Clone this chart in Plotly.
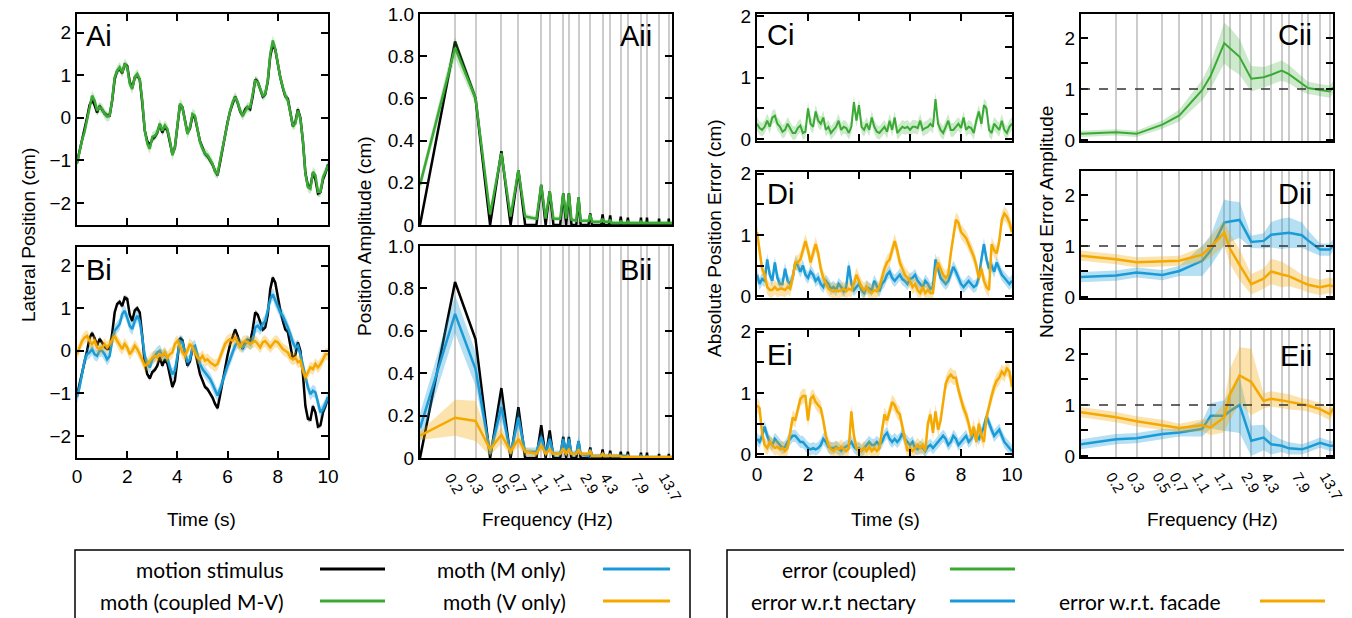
import math
import plotly.graph_objects as go

# reference canvas size; the page body adds an 8 px margin, so the figure is smaller
W, H = 1352, 618
OX, OY = 8, 8
FW, FH = W - OX, H - OY
FONT = "Liberation Sans, Arial, sans-serif"
FONT_LEG = "Liberation Sans Narrow, Lato, sans-serif"

BLACK = "#000000"
GREEN = "#3aaa35"
BLUE = "#1a9bd7"
ORANGE = "#f5a800"
FILL = {GREEN: "rgba(58,170,53,0.25)", BLUE: "rgba(26,155,215,0.32)",
        ORANGE: "rgba(245,168,0,0.32)", BLACK: "rgba(40,40,40,0.35)"}

# ---------------- time-domain data (0.1 s samples) ----------------
TIME = [round(0.1 * i, 1) for i in range(101)]

STIMULUS = [
    -1.05, -0.80, -0.55, -0.30, 0.00, 0.30, 0.42, 0.30, 0.12, 0.28,
    0.20, 0.10, 0.05, 0.05, 0.40, 0.90, 1.10, 1.15, 1.05, 1.25,
    1.22, 0.85, 0.70, 0.95, 1.00, 0.90, 0.35, -0.30, -0.55, -0.65,
    -0.50, -0.45, -0.35, -0.15, -0.35, -0.20, -0.30, -0.55, -0.85, -0.70,
    -0.20, 0.30, 0.25, -0.05, -0.35, -0.25, 0.05, 0.00, -0.30, -0.55,
    -0.70, -0.85, -0.90, -1.00, -1.10, -1.25, -1.35, -1.05, -0.70, -0.40,
    -0.10, 0.15, 0.35, 0.50, 0.35, 0.15, 0.05, 0.20, 0.25, 0.20,
    0.50, 0.90, 0.85, 0.65, 0.50, 0.55, 0.85, 1.45, 1.72, 1.60,
    1.25, 0.95, 0.70, 0.50, 0.45, 0.15, -0.20, -0.10, 0.20, 0.00,
    -0.55, -1.30, -1.60, -1.62, -1.30, -1.45, -1.78, -1.75, -1.45, -1.30,
    -1.10]
MOTH_COUPLED = [
    -1.08, -0.77, -0.53, -0.34, -0.06, 0.25, 0.52, 0.41, 0.17, 0.25,
    0.21, 0.09, 0.03, 0.05, 0.41, 0.95, 1.11, 1.19, 1.07, 1.27,
    1.19, 0.80, 0.68, 0.95, 1.03, 0.91, 0.41, -0.30, -0.61, -0.73,
    -0.45, -0.42, -0.34, -0.14, -0.30, -0.18, -0.26, -0.53, -0.88, -0.69,
    -0.22, 0.33, 0.25, -0.06, -0.38, -0.22, 0.09, 0.05, -0.26, -0.57,
    -0.73, -0.84, -0.88, -0.99, -1.08, -1.27, -1.32, -1.00, -0.69, -0.38,
    -0.10, 0.17, 0.37, 0.49, 0.37, 0.17, 0.05, 0.17, 0.25, 0.25,
    0.52, 0.87, 0.84, 0.68, 0.52, 0.56, 0.87, 1.50, 1.82, 1.62,
    1.23, 0.95, 0.72, 0.52, 0.41, 0.13, -0.18, -0.14, 0.17, -0.02,
    -0.53, -1.32, -1.63, -1.67, -1.27, -1.35, -1.74, -1.74, -1.39, -1.27,
    -1.12]
MOTH_M_ONLY = [
    -1.09, -0.86, -0.55, -0.23, -0.08, -0.04, 0.04, -0.08, -0.12, 0.00,
    0.00, -0.08, -0.20, -0.12, 0.23, 0.47, 0.55, 0.63, 0.86, 0.94,
    0.78, 0.59, 0.51, 0.70, 0.82, 0.70, 0.31, -0.12, -0.31, -0.39,
    -0.20, -0.12, -0.04, 0.00, -0.12, -0.08, -0.16, -0.39, -0.55, -0.47,
    -0.08, 0.23, 0.20, -0.04, -0.27, -0.20, 0.08, 0.12, -0.12, -0.31,
    -0.43, -0.51, -0.59, -0.66, -0.78, -0.94, -1.05, -0.90, -0.70, -0.55,
    -0.35, -0.20, -0.04, 0.12, 0.20, 0.16, 0.08, 0.16, 0.23, 0.16,
    0.23, 0.55, 0.59, 0.51, 0.63, 0.70, 0.94, 1.21, 1.33, 1.17,
    1.02, 0.90, 0.82, 0.70, 0.55, 0.39, 0.20, 0.08, 0.12, -0.08,
    -0.35, -0.63, -0.86, -1.02, -0.94, -0.98, -1.25, -1.45, -1.37, -1.25,
    -1.09]
MOTH_V_ONLY = [
    -0.08, 0.08, 0.23, 0.31, 0.35, 0.23, 0.16, 0.23, 0.08, 0.04,
    0.08, 0.16, 0.08, 0.16, 0.27, 0.35, 0.23, 0.12, 0.04, 0.16,
    0.08, -0.08, 0.00, 0.12, 0.04, -0.08, -0.23, -0.35, -0.31, -0.23,
    -0.16, -0.12, -0.16, -0.08, -0.12, -0.04, -0.16, -0.08, -0.04, 0.16,
    0.23, 0.12, -0.04, -0.12, 0.00, 0.16, 0.08, -0.04, -0.16, -0.20,
    -0.12, -0.23, -0.20, -0.27, -0.31, -0.35, -0.31, -0.16, 0.00, 0.16,
    0.23, 0.27, 0.23, 0.31, 0.20, 0.08, 0.20, 0.23, 0.20, 0.16,
    0.20, 0.23, 0.16, 0.08, 0.20, 0.23, 0.16, 0.08, 0.16, 0.23,
    0.20, 0.12, 0.04, 0.00, -0.04, -0.16, -0.20, -0.16, -0.27, -0.23,
    -0.47, -0.63, -0.51, -0.39, -0.43, -0.31, -0.39, -0.31, -0.20, -0.08,
    -0.08]
ERR_COUPLED = [
    0.25, 0.18, 0.15, 0.20, 0.30, 0.20, 0.35, 0.38, 0.25, 0.20,
    0.12, 0.15, 0.25, 0.18, 0.10, 0.10, 0.18, 0.22, 0.10, 0.12,
    0.50, 0.25, 0.20, 0.45, 0.30, 0.25, 0.35, 0.15, 0.20, 0.10,
    0.15, 0.20, 0.30, 0.15, 0.20, 0.18, 0.10, 0.20, 0.60, 0.30,
    0.55, 0.20, 0.15, 0.25, 0.15, 0.35, 0.20, 0.12, 0.10, 0.15,
    0.20, 0.12, 0.30, 0.15, 0.35, 0.10, 0.15, 0.20, 0.18, 0.20,
    0.15, 0.20, 0.20, 0.18, 0.30, 0.15, 0.18, 0.20, 0.25, 0.20,
    0.65, 0.25, 0.15, 0.10, 0.20, 0.30, 0.15, 0.15, 0.20, 0.25,
    0.18, 0.35, 0.15, 0.20, 0.18, 0.10, 0.30, 0.45, 0.25, 0.55,
    0.50, 0.15, 0.10, 0.25, 0.20, 0.15, 0.30, 0.15, 0.10, 0.20,
    0.25]
ERR_D_NECTARY = [
    0.35, 0.20, 0.28, 0.25, 0.60, 0.35, 0.25, 0.55, 0.30, 0.20,
    0.20, 0.45, 0.25, 0.20, 0.30, 0.55, 0.50, 0.40, 0.50, 0.35,
    0.30, 0.40, 0.35, 0.25, 0.30, 0.20, 0.15, 0.25, 0.20, 0.12,
    0.15, 0.10, 0.20, 0.15, 0.08, 0.15, 0.50, 0.20, 0.10, 0.15,
    0.20, 0.10, 0.05, 0.15, 0.12, 0.10, 0.25, 0.15, 0.08, 0.20,
    0.25, 0.35, 0.40, 0.30, 0.25, 0.30, 0.35, 0.28, 0.25, 0.20,
    0.28, 0.30, 0.35, 0.25, 0.20, 0.15, 0.25, 0.20, 0.12, 0.15,
    0.60, 0.45, 0.30, 0.25, 0.20, 0.25, 0.35, 0.48, 0.40, 0.30,
    0.20, 0.15, 0.20, 0.25, 0.20, 0.15, 0.18, 0.30, 0.60, 0.85,
    0.60, 0.45, 0.50, 0.40, 0.55, 0.45, 0.35, 0.30, 0.25, 0.20,
    0.25]
ERR_D_FACADE = [
    1.05, 0.70, 0.45, 0.35, 0.15, 0.10, 0.10, 0.15, 0.10, 0.12,
    0.12, 0.10, 0.15, 0.12, 0.30, 0.55, 0.55, 0.60, 0.75, 0.90,
    0.75, 0.55, 0.70, 0.85, 0.70, 0.45, 0.30, 0.20, 0.12, 0.10,
    0.08, 0.10, 0.08, 0.10, 0.12, 0.08, 0.12, 0.10, 0.20, 0.35,
    0.25, 0.15, 0.10, 0.15, 0.08, 0.05, 0.10, 0.08, 0.15, 0.30,
    0.45, 0.55, 0.60, 0.75, 0.90, 0.75, 0.55, 0.45, 0.35, 0.30,
    0.25, 0.15, 0.20, 0.10, 0.05, 0.15, 0.05, 0.10, 0.05, 0.05,
    0.40, 0.55, 0.45, 0.35, 0.30, 0.35, 0.70, 1.00, 1.25, 1.20,
    1.05, 1.00, 0.95, 0.85, 0.75, 0.65, 0.50, 0.30, 0.45, 0.25,
    0.15, 0.10, 0.85, 0.75, 0.70, 0.90, 1.25, 1.35, 1.30, 1.20,
    1.05]
ERR_E_NECTARY = [
    0.25, 0.20, 0.30, 0.45, 0.30, 0.20, 0.15, 0.25, 0.20, 0.15,
    0.10, 0.12, 0.20, 0.25, 0.30, 0.30, 0.25, 0.20, 0.20, 0.15,
    0.10, 0.08, 0.10, 0.08, 0.10, 0.15, 0.25, 0.20, 0.12, 0.10,
    0.10, 0.12, 0.08, 0.05, 0.10, 0.12, 0.15, 0.20, 0.12, 0.08,
    0.10, 0.05, 0.10, 0.15, 0.20, 0.15, 0.15, 0.20, 0.15, 0.20,
    0.30, 0.35, 0.25, 0.20, 0.25, 0.20, 0.25, 0.34, 0.25, 0.20,
    0.15, 0.20, 0.10, 0.08, 0.12, 0.10, 0.05, 0.12, 0.15, 0.10,
    0.15, 0.20, 0.25, 0.30, 0.25, 0.15, 0.20, 0.30, 0.25, 0.15,
    0.20, 0.25, 0.30, 0.20, 0.25, 0.35, 0.30, 0.25, 0.35, 0.45,
    0.62, 0.50, 0.40, 0.30, 0.35, 0.40, 0.30, 0.20, 0.15, 0.10,
    0.05]
ERR_E_FACADE = [
    0.80, 0.75, 0.35, 0.15, 0.10, 0.20, 0.15, 0.10, 0.12, 0.08,
    0.10, 0.05, 0.10, 0.35, 0.60, 0.55, 0.75, 0.90, 0.95, 0.95,
    0.55, 0.90, 0.95, 0.85, 0.80, 0.75, 0.55, 0.30, 0.15, 0.08,
    0.05, 0.10, 0.08, 0.12, 0.08, 0.05, 0.10, 0.70, 0.30, 0.10,
    0.08, 0.05, 0.10, 0.05, 0.12, 0.05, 0.10, 0.05, 0.10, 0.35,
    0.65, 0.55, 0.70, 0.85, 0.80, 0.70, 0.65, 0.45, 0.20, 0.05,
    0.10, 0.05, 0.10, 0.15, 0.10, 0.15, 0.05, 0.50, 0.65, 0.35,
    0.70, 0.40, 0.55, 0.90, 1.15, 1.25, 1.30, 1.25, 1.25, 1.05,
    0.90, 0.75, 0.65, 0.50, 0.30, 0.45, 0.20, 0.50, 0.30, 0.20,
    0.60, 0.80, 0.95, 1.10, 1.20, 1.25, 1.35, 1.30, 1.40, 1.35,
    1.10]
# band half-widths (read from shading)
SEM_STIM = 0.06
SEM_COUPLED = 0.12
SEM_M_ONLY = 0.14
SEM_V_ONLY = 0.14
SEM_ERR_COUPLED = 0.11
SEM_ERR_NECTARY = 0.10
SEM_ERR_FACADE = 0.12

# ---------------- spectra ----------------
SPEC_FREQ = [0.1, 0.2, 0.3, 0.4, 0.5, 0.6, 0.7, 0.8, 1.0, 1.1, 1.2, 1.3, 1.4, 1.6, 1.7, 1.8,
             1.9, 2.0, 2.2, 2.3, 2.4, 2.8, 2.9, 3.0, 3.6, 3.7, 3.8, 4.2, 4.3, 4.4, 5.2, 5.3,
             5.4, 6.0, 6.1, 6.2, 7.8, 7.9, 8.0, 8.8, 8.9, 9.0, 11.2, 11.3, 11.4, 13.6, 13.7,
             13.8, 14.6]
AMP_A_STIM = [0, 0.87, 0.60, 0, 0.35, 0, 0.26, 0, 0, 0.19, 0, 0.16, 0, 0, 0.15, 0,
              0.15, 0, 0, 0.13, 0, 0, 0.055, 0, 0, 0.05, 0, 0, 0.045, 0, 0, 0.04,
              0, 0, 0.035, 0, 0, 0.035, 0, 0, 0.035, 0, 0, 0.03, 0, 0, 0.03,
              0, 0]
AMP_A_COUPLED = [0.19, 0.84, 0.60, 0.05, 0.34, 0.04, 0.26, 0.04, 0.03, 0.19, 0.03, 0.16, 0.03, 0.03, 0.15, 0.03,
                 0.15, 0.025, 0.02, 0.13, 0.02, 0.02, 0.05, 0.015, 0.015, 0.03, 0.015, 0.015, 0.025, 0.01, 0.01, 0.02,
                 0.01, 0.01, 0.015, 0.01, 0.01, 0.015, 0.01, 0.01, 0.01, 0.01, 0.01, 0.01, 0.01, 0.01, 0.01,
                 0.01, 0.01]
BAND_A_COUPLED = [0.03, 0.05, 0.03, 0.02, 0.02, 0.015, 0.02, 0.015, 0.01, 0.015, 0.01, 0.015, 0.01, 0.01, 0.015, 0.01,
                  0.015, 0.01, 0.01, 0.01, 0.01, 0.01, 0.01, 0.01, 0.01, 0.01, 0.01, 0.01, 0.01, 0.01, 0.01, 0.01,
                  0.01, 0.01, 0.01, 0.01, 0.01, 0.01, 0.01, 0.01, 0.01, 0.01, 0.01, 0.01, 0.01, 0.01, 0.01,
                  0.01, 0.01]
AMP_B_STIM = [0, 0.83, 0.56, 0, 0.33, 0, 0.24, 0, 0, 0.155, 0, 0.13, 0, 0, 0.10, 0,
              0.10, 0, 0, 0.08, 0, 0, 0.05, 0, 0, 0.04, 0, 0, 0.035, 0, 0, 0.03,
              0, 0, 0.03, 0, 0, 0.025, 0, 0, 0.025, 0, 0, 0.02, 0, 0, 0.02,
              0, 0]
AMP_B_M_ONLY = [0.14, 0.68, 0.42, 0.02, 0.24, 0.02, 0.19, 0.03, 0.03, 0.10, 0.02, 0.09, 0.02, 0.02, 0.09, 0.02,
                0.09, 0.02, 0.02, 0.08, 0.02, 0.01, 0.04, 0.01, 0.01, 0.02, 0.01, 0.01, 0.02, 0.01, 0.01, 0.01,
                0.01, 0.01, 0.01, 0.005, 0.005, 0.01, 0.005, 0.005, 0.01, 0.005, 0.005, 0.005, 0.005, 0.005, 0.005,
                0.005, 0.005]
BAND_B_M_ONLY = [0.07, 0.09, 0.08, 0.03, 0.06, 0.02, 0.05, 0.02, 0.02, 0.03, 0.02, 0.03, 0.015, 0.015, 0.03, 0.015,
                 0.03, 0.015, 0.015, 0.025, 0.01, 0.01, 0.015, 0.01, 0.01, 0.01, 0.01, 0.01, 0.01, 0.01, 0.01, 0.01,
                 0.01, 0.01, 0.01, 0.005, 0.005, 0.005, 0.005, 0.005, 0.005, 0.005, 0.005, 0.005, 0.005, 0.005, 0.005,
                 0.005, 0.005]
AMP_B_V_ONLY = [0.105, 0.19, 0.175, 0.04, 0.11, 0.03, 0.09, 0.03, 0.02, 0.06, 0.02, 0.04, 0.02, 0.02, 0.045, 0.02,
                0.04, 0.02, 0.02, 0.04, 0.02, 0.02, 0.035, 0.01, 0.01, 0.02, 0.01, 0.01, 0.015, 0.01, 0.01, 0.01,
                0.005, 0.005, 0.01, 0.005, 0.005, 0.005, 0.005, 0.005, 0.005, 0.005, 0.005, 0.005, 0.005, 0.005, 0.005,
                0.005, 0.005]
BAND_B_V_ONLY = [0.02, 0.085, 0.095, 0.03, 0.04, 0.02, 0.035, 0.02, 0.015, 0.02, 0.01, 0.015, 0.01, 0.01, 0.015, 0.01,
                 0.015, 0.01, 0.01, 0.015, 0.01, 0.01, 0.01, 0.005, 0.005, 0.01, 0.005, 0.005, 0.005, 0.005, 0.005, 0.005,
                 0.005, 0.005, 0.005, 0.005, 0.005, 0.005, 0.005, 0.005, 0.005, 0.005, 0.005, 0.005, 0.005, 0.005, 0.005,
                 0.005, 0.005]

# ---------------- normalized error amplitude ----------------
STIM_FREQ = [0.2, 0.3, 0.5, 0.7, 1.1, 1.3, 1.7, 1.9, 2.3, 2.9, 3.7, 4.3, 5.3, 6.1, 7.9, 8.9, 11.3, 13.7]
FREQ_LABELS = ["0.2", "0.3", "0.5", "0.7", "1.1", "", "1.7", "", "", "2.9", "", "4.3", "", "", "7.9", "", "", "13.7"]
ERR_FREQ = [0.1, 0.2, 0.3, 0.5, 0.7, 1.1, 1.3, 1.7, 1.9, 2.3, 2.9, 3.7, 4.3, 5.3, 6.1, 7.9, 8.9, 11.3, 13.7, 14.6]
NE_C = [0.12, 0.15, 0.12, 0.30, 0.48, 0.98, 1.26, 1.90, 1.80, 1.63, 1.20, 1.23, 1.28, 1.36, 1.29, 1.10, 1.02, 0.98, 0.95, 1.03]
NE_C_BAND = [0.06, 0.06, 0.06, 0.08, 0.12, 0.2, 0.25, 0.4, 0.4, 0.35, 0.25, 0.2, 0.2, 0.2, 0.18, 0.15, 0.12, 0.12, 0.12, 0.12]
NE_D_NECTARY = [0.39, 0.42, 0.48, 0.43, 0.51, 0.71, 0.91, 1.46, 1.48, 1.51, 1.08, 1.10, 1.22, 1.24, 1.26, 1.21, 1.11, 0.93, 0.93, 1.01]
NE_D_NECTARY_BAND = [0.1, 0.1, 0.1, 0.1, 0.1, 0.3, 0.3, 0.45, 0.4, 0.35, 0.12, 0.15, 0.25, 0.3, 0.3, 0.25, 0.2, 0.12, 0.12, 0.12]
NE_D_FACADE = [0.81, 0.74, 0.68, 0.70, 0.71, 0.83, 0.98, 1.26, 0.95, 0.63, 0.25, 0.36, 0.50, 0.44, 0.41, 0.29, 0.24, 0.19, 0.23, 0.21]
NE_D_FACADE_BAND = [0.1, 0.1, 0.1, 0.1, 0.1, 0.15, 0.2, 0.25, 0.3, 0.3, 0.2, 0.2, 0.25, 0.25, 0.2, 0.15, 0.15, 0.15, 0.15, 0.15]
NE_E_NECTARY = [0.23, 0.33, 0.35, 0.43, 0.46, 0.53, 0.79, 0.79, 0.88, 1.0, 0.30, 0.36, 0.23, 0.20, 0.15, 0.13, 0.17, 0.26, 0.20, 0.20]
NE_E_NECTARY_BAND = [0.1, 0.1, 0.1, 0.1, 0.08, 0.15, 0.25, 0.3, 0.4, 0.55, 0.3, 0.25, 0.2, 0.12, 0.12, 0.1, 0.1, 0.1, 0.1, 0.1]
NE_E_FACADE = [0.86, 0.76, 0.68, 0.61, 0.55, 0.60, 0.56, 0.76, 1.2, 1.58, 1.45, 1.08, 1.12, 1.09, 1.06, 1.01, 0.99, 0.92, 0.82, 0.93]
NE_E_FACADE_BAND = [0.1, 0.1, 0.1, 0.1, 0.08, 0.12, 0.15, 0.3, 0.5, 0.55, 0.65, 0.15, 0.15, 0.15, 0.15, 0.12, 0.12, 0.12, 0.12, 0.12]
REF_LEVEL = 1.0

# ---------------- helpers ----------------
fig = go.Figure()


def ax_name(n):
    return ("x" if n == 1 else f"x{n}"), ("y" if n == 1 else f"y{n}")


def band(n, x, y, half, color, const=False):
    xa, ya = ax_name(n)
    if const:
        up = [v + half for v in y]
        lo = [v - half for v in y]
    else:
        up = [v + h for v, h in zip(y, half)]
        lo = [max(v - h, 0) for v, h in zip(y, half)]
    fig.add_trace(go.Scatter(x=list(x) + list(x)[::-1], y=up + lo[::-1], fill="toself",
                             fillcolor=FILL[color], line=dict(width=0), mode="lines",
                             hoverinfo="skip", showlegend=False, xaxis=xa, yaxis=ya))


def line(n, x, y, color, width=2.5):
    xa, ya = ax_name(n)
    fig.add_trace(go.Scatter(x=x, y=y, mode="lines", line=dict(color=color, width=width),
                             showlegend=False, xaxis=xa, yaxis=ya))


# Ai
band(1, TIME, STIMULUS, SEM_STIM, BLACK, const=True)
line(1, TIME, STIMULUS, BLACK)
band(1, TIME, MOTH_COUPLED, SEM_COUPLED, GREEN, const=True)
line(1, TIME, MOTH_COUPLED, GREEN)
# Bi
band(2, TIME, STIMULUS, SEM_STIM, BLACK, const=True)
line(2, TIME, STIMULUS, BLACK)
band(2, TIME, MOTH_M_ONLY, SEM_M_ONLY, BLUE, const=True)
line(2, TIME, MOTH_M_ONLY, BLUE)
band(2, TIME, MOTH_V_ONLY, SEM_V_ONLY, ORANGE, const=True)
line(2, TIME, MOTH_V_ONLY, ORANGE)
# Aii
line(3, SPEC_FREQ, AMP_A_STIM, BLACK)
band(3, SPEC_FREQ, AMP_A_COUPLED, BAND_A_COUPLED, GREEN)
line(3, SPEC_FREQ, AMP_A_COUPLED, GREEN)
# Bii
line(4, SPEC_FREQ, AMP_B_STIM, BLACK)
band(4, SPEC_FREQ, AMP_B_M_ONLY, BAND_B_M_ONLY, BLUE)
line(4, SPEC_FREQ, AMP_B_M_ONLY, BLUE)
band(4, SPEC_FREQ, AMP_B_V_ONLY, BAND_B_V_ONLY, ORANGE)
line(4, SPEC_FREQ, AMP_B_V_ONLY, ORANGE)
# Ci, Di, Ei
band(5, TIME, ERR_COUPLED, SEM_ERR_COUPLED, GREEN, const=True)
line(5, TIME, ERR_COUPLED, GREEN, 2)
band(6, TIME, ERR_D_NECTARY, SEM_ERR_NECTARY, BLUE, const=True)
line(6, TIME, ERR_D_NECTARY, BLUE)
band(6, TIME, ERR_D_FACADE, SEM_ERR_FACADE, ORANGE, const=True)
line(6, TIME, ERR_D_FACADE, ORANGE)
band(7, TIME, ERR_E_NECTARY, SEM_ERR_NECTARY, BLUE, const=True)
line(7, TIME, ERR_E_NECTARY, BLUE)
band(7, TIME, ERR_E_FACADE, SEM_ERR_FACADE, ORANGE, const=True)
line(7, TIME, ERR_E_FACADE, ORANGE)
# Cii, Dii, Eii
band(8, ERR_FREQ, NE_C, NE_C_BAND, GREEN)
line(8, ERR_FREQ, NE_C, GREEN, 2)
band(9, ERR_FREQ, NE_D_NECTARY, NE_D_NECTARY_BAND, BLUE)
line(9, ERR_FREQ, NE_D_NECTARY, BLUE)
band(9, ERR_FREQ, NE_D_FACADE, NE_D_FACADE_BAND, ORANGE)
line(9, ERR_FREQ, NE_D_FACADE, ORANGE)
band(10, ERR_FREQ, NE_E_NECTARY, NE_E_NECTARY_BAND, BLUE)
line(10, ERR_FREQ, NE_E_NECTARY, BLUE)
band(10, ERR_FREQ, NE_E_FACADE, NE_E_FACADE_BAND, ORANGE)
line(10, ERR_FREQ, NE_E_FACADE, ORANGE)

# ---------------- axes ----------------
TICKFONT = dict(family=FONT, size=19, color="black")
BASE = dict(showline=True, linewidth=2, linecolor="black", mirror="ticks", ticks="inside",
            ticklen=7, tickwidth=2, tickcolor="black", zeroline=False, showgrid=False,
            tickfont=TICKFONT, fixedrange=True, automargin=False, ticklabeloverflow="allow")


def px(x):
    return (x - OX) / FW


def py(y):
    return 1 - (y - OY) / FH


def xd(x0, x1):
    return [px(x0), px(x1)]


def yd(top, bottom):
    return [py(bottom), py(top)]


def time_x(dom, labels):
    return dict(BASE, domain=dom, range=[0, 10], tickvals=[0, 2, 4, 6, 8, 10],
                showticklabels=labels)


def freq_x(dom, labels):
    return dict(showline=True, linewidth=2, linecolor="black", mirror=True, ticks="",
                zeroline=False, showgrid=True, gridcolor="#cccccc", gridwidth=1.6,
                type="log", range=[-1, math.log10(14.6)], tickmode="array",
                tickvals=STIM_FREQ, ticktext=FREQ_LABELS, tickangle=60,
                ticklabelshift=-4, ticklabelstandoff=3, ticklabeloverflow="allow",
                tickfont=dict(family=FONT, size=15, color="black"),
                showticklabels=labels, domain=dom, fixedrange=True, automargin=False)


pos_y = dict(BASE, range=[-2.52, 2.44], tickvals=[-2, -1, 0, 1, 2])
amp_y = dict(BASE, range=[0, 1.0], tickvals=[0, 0.2, 0.4, 0.6, 0.8, 1.0],
             ticktext=["0", "0.2", "0.4", "0.6", "0.8", "1.0"])
err_y = dict(BASE, range=[-0.03, 2.03], tickvals=[0, 0.5, 1, 1.5, 2], ticktext=["0", "", "1", "", "2"])
ne_y = dict(BASE, range=[-0.02, 2.47], tickvals=[0, 0.5, 1, 1.5, 2], ticktext=["0", "", "1", "", "2"])

L = {}
L["xaxis"] = dict(time_x(xd(77, 328), False), anchor="y")
L["yaxis"] = dict(pos_y, domain=yd(14, 225), anchor="x")
L["xaxis2"] = dict(time_x(xd(77, 328), True), anchor="y2")
L["yaxis2"] = dict(pos_y, domain=yd(247, 458), anchor="x2")
L["xaxis3"] = dict(freq_x(xd(420, 672), False), anchor="y3")
L["yaxis3"] = dict(amp_y, domain=yd(14, 225), anchor="x3")
L["xaxis4"] = dict(freq_x(xd(420, 672), True), anchor="y4")
L["yaxis4"] = dict(amp_y, domain=yd(246, 458), anchor="x4")
L["xaxis5"] = dict(time_x(xd(757, 1012), False), anchor="y5")
L["yaxis5"] = dict(err_y, domain=yd(14, 141), anchor="x5")
L["xaxis6"] = dict(time_x(xd(757, 1012), False), anchor="y6")
L["yaxis6"] = dict(err_y, domain=yd(172, 298), anchor="x6")
L["xaxis7"] = dict(time_x(xd(757, 1012), True), anchor="y7")
L["yaxis7"] = dict(err_y, domain=yd(330, 456), anchor="x7")
L["xaxis8"] = dict(freq_x(xd(1081, 1333), False), anchor="y8")
L["yaxis8"] = dict(ne_y, domain=yd(14, 141), anchor="x8")
L["xaxis9"] = dict(freq_x(xd(1081, 1333), False), anchor="y9")
L["yaxis9"] = dict(ne_y, domain=yd(171, 298), anchor="x9")
L["xaxis10"] = dict(freq_x(xd(1081, 1333), True), anchor="y10")
L["yaxis10"] = dict(ne_y, domain=yd(330, 457), anchor="x10")

fig.update_layout(**L)

shapes = []
for n in (8, 9, 10):
    shapes.append(dict(type="line", xref=f"x{n} domain", x0=0, x1=1, yref=f"y{n}",
                       y0=REF_LEVEL, y1=REF_LEVEL, line=dict(color="#333333", width=1.3, dash="dash")))

annotations = []


def txt(x, y, s, size=18, xanchor="center", angle=0, family=FONT):
    annotations.append(dict(x=px(x), y=py(y), xref="paper", yref="paper", text=s,
                            showarrow=False, xanchor=xanchor, yanchor="middle",
                            textangle=angle, font=dict(family=family, size=size, color="black")))


# panel labels
PL = 29
txt(84, 36, "Ai", PL, "left")
txt(84, 270, "Bi", PL, "left")
txt(654, 36, "Aii", PL, "right")
txt(654, 270, "Bii", PL, "right")
txt(765, 35, "Ci", PL, "left")
txt(765, 194, "Di", PL, "left")
txt(765, 355, "Ei", PL, "left")
txt(1314, 35, "Cii", PL, "right")
txt(1314, 194, "Dii", PL, "right")
txt(1314, 356, "Eii", PL, "right")

# axis titles
TT = 19
txt(28, 235, "Lateral Position (cm)", TT, angle=-90)
txt(364, 236, "Position Amplitude (cm)", TT, angle=-90)
txt(715, 238, "Absolute Position Error (cm)", TT, angle=-90)
txt(1046, 222, "Normalized Error Amplitude", TT, angle=-90)
txt(202, 519, "Time (s)", TT)
txt(547, 519, "Frequency (Hz)", TT)
txt(885, 519, "Time (s)", TT)
txt(1212, 519, "Frequency (Hz)", TT)

# legends
LEG = 21
for (x0, x1) in ((75, 690), (727, 1345)):
    shapes.append(dict(type="rect", xref="paper", yref="paper", x0=px(x0), x1=px(x1),
                       y0=-0.05, y1=py(550), line=dict(color="black", width=1.5)))


def leg(xr, y, label, color, lx0, lx1):
    txt(xr, y, label, LEG, "right", family=FONT_LEG)
    shapes.append(dict(type="line", xref="paper", yref="paper", x0=px(lx0), x1=px(lx1),
                       y0=py(y), y1=py(y), line=dict(color=color, width=3)))


leg(286, 569, "motion stimulus", BLACK, 320, 385)
leg(286, 601, "moth (coupled M-V)", GREEN, 320, 385)
leg(568, 569, "moth (M only)", BLUE, 603, 670)
leg(568, 601, "moth (V only)", ORANGE, 603, 670)
leg(918, 569, "error (coupled)", GREEN, 950, 1015)
leg(918, 601, "error w.r.t nectary", BLUE, 950, 1015)
leg(1223, 601, "error w.r.t. facade", ORANGE, 1260, 1325)

fig.update_layout(width=FW, height=FH, margin=dict(l=0, r=0, t=0, b=0, autoexpand=False),
                  paper_bgcolor="white", plot_bgcolor="white", showlegend=False,
                  shapes=shapes, annotations=annotations,
                  font=dict(family=FONT, color="black"))

fig.write_html("out.html")
